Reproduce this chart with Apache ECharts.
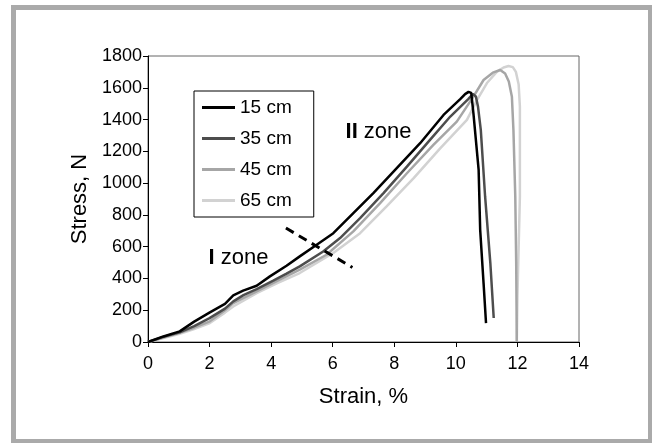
<!DOCTYPE html>
<html>
<head>
<meta charset="utf-8">
<script src="https://cdn.jsdelivr.net/npm/echarts@6/dist/echarts.min.js"></script>
<style>
  html, body { margin: 0; padding: 0; background: #fff; }
  #chart { width: 652px; height: 443px; }
</style>
</head>
<body>
<div id="chart"></div>
<script>
// 读图估计的数据: 应变 (%) / 应力 (N)
const strain15 = [0, 0.5, 1.03, 1.5, 2.01, 2.5, 2.77, 3.09, 3.53, 3.96, 4.5, 4.93, 5.48, 6.02, 6.67, 7.32, 8.08, 8.84, 9.6, 10.15, 10.3, 10.41, 10.5, 10.57, 10.74, 10.79, 10.9, 10.98];
const stress15 = [0, 35, 67, 128, 186, 240, 293, 323, 354, 413, 480, 539, 612, 685, 811, 937, 1094, 1251, 1429, 1530, 1560, 1574, 1568, 1440, 1083, 706, 371, 119];

const strain35 = [0, 0.5, 1.03, 1.5, 2.0, 2.5, 2.77, 3.1, 3.53, 4.07, 4.5, 4.93, 5.69, 6.24, 6.89, 7.65, 8.41, 9.16, 9.82, 10.41, 10.55, 10.65, 10.72, 10.81, 10.95, 11.12, 11.23];
const stress35 = [0, 32, 61, 100, 150, 210, 256, 295, 333, 386, 430, 476, 570, 654, 780, 937, 1104, 1272, 1419, 1530, 1561, 1545, 1480, 1335, 916, 497, 151];

const strain45 = [0, 0.5, 1.03, 1.5, 2.01, 2.5, 2.77, 3.53, 4.2, 4.93, 5.8, 6.67, 7.54, 8.41, 9.27, 10.03, 10.57, 10.9, 11.2, 11.44, 11.6, 11.72, 11.82, 11.87, 11.93, 11.96, 11.98];
const stress45 = [0, 28, 58, 90, 130, 200, 245, 319, 385, 455, 549, 696, 874, 1062, 1240, 1387, 1544, 1649, 1695, 1712, 1690, 1640, 1544, 1335, 916, 497, 0];

const strain65 = [0, 0.5, 1.03, 1.5, 2.01, 2.5, 2.77, 3.53, 4.2, 4.93, 6.02, 6.89, 7.75, 8.63, 9.49, 10.36, 10.68, 11.01, 11.33, 11.55, 11.71, 11.85, 11.95, 12.04, 12.08, 12.08, 12.0, 11.98];
const stress65 = [0, 25, 52, 82, 119, 185, 224, 308, 370, 434, 560, 685, 853, 1031, 1219, 1398, 1520, 1630, 1700, 1728, 1737, 1730, 1700, 1620, 1482, 916, 287, 0];

// 分区虚线
const zoneLineX = [4.48, 6.64];
const zoneLineY = [717, 469];

// 分区标注
const zoneLabels = ['I', 'II'];
const zoneLabelX = [1.95, 6.4];
const zoneLabelY = [528, 1321];

const seriesNames = ['15 cm', '35 cm', '45 cm', '65 cm'];
const seriesColors = ['#000000', '#4d4d4d', '#a6a6a6', '#d2d2d2'];

function pairs(xs, ys) {
  return xs.map((x, i) => [x, ys[i]]);
}

const font = '"Liberation Sans", Arial, sans-serif';
const myChart = echarts.init(document.getElementById('chart'));

const curves = [
  pairs(strain15, stress15),
  pairs(strain35, stress35),
  pairs(strain45, stress45),
  pairs(strain65, stress65)
];

const series = [];
// 先画浅色的，深色的在上面
for (let i = curves.length - 1; i >= 0; i--) {
  series.push({
    name: seriesNames[i],
    type: 'line',
    data: curves[i],
    showSymbol: false,
    lineStyle: { color: seriesColors[i], width: 2.5 },
    itemStyle: { color: seriesColors[i] },
    z: 10 - i
  });
}
series.push({
  name: 'zone',
  type: 'line',
  data: pairs(zoneLineX, zoneLineY),
  showSymbol: false,
  lineStyle: { color: '#000', width: 3, type: [9, 6] },
  z: 20
});
series.push({
  name: 'zoneText',
  type: 'scatter',
  data: zoneLabelX.map((x, i) => ({ value: [x, zoneLabelY[i]], name: zoneLabels[i] })),
  symbol: 'circle',
  symbolSize: 1,
  itemStyle: { color: 'transparent', opacity: 1 },
  z: 30,
  label: {
    show: true,
    position: 'right',
    distance: 0,
    fontFamily: font,
    fontSize: 22,
    color: '#000',
    opacity: 1,
    formatter: p => '{b|' + p.name + '} zone',
    rich: {
      b: { fontFamily: font, fontSize: 22, fontWeight: 'bold', color: '#000' }
    }
  }
});

const option = {
  backgroundColor: '#fff',
  animation: false,
  grid: {
    left: 148, right: 73, top: 56, bottom: 101,
    show: true, borderColor: '#666', borderWidth: 1
  },
  legend: {
    data: seriesNames,
    orient: 'vertical',
    left: 194, top: 91,
    padding: [7, 22, 7, 8],
    itemWidth: 33, itemHeight: 3, itemGap: 12,
    icon: 'rect',
    borderColor: '#000', borderWidth: 1,
    textStyle: { fontFamily: font, fontSize: 19, color: '#000' }
  },
  xAxis: {
    type: 'value', min: 0, max: 14, interval: 2,
    name: 'Strain, %', nameLocation: 'middle', nameGap: 44,
    nameTextStyle: { fontFamily: font, fontSize: 22, color: '#000' },
    splitLine: { show: false },
    axisLine: { lineStyle: { color: '#000', width: 1 } },
    axisTick: { length: 5, lineStyle: { color: '#000' } },
    axisLabel: { fontFamily: font, fontSize: 18, color: '#000', margin: 13 }
  },
  yAxis: {
    type: 'value', min: 0, max: 1800, interval: 200,
    name: 'Stress, N', nameLocation: 'middle', nameGap: 56,
    nameTextStyle: { fontFamily: font, fontSize: 22, color: '#000' },
    splitLine: { show: false },
    axisLine: { show: true, lineStyle: { color: '#000', width: 1 } },
    axisTick: { show: true, length: 5, lineStyle: { color: '#000' } },
    axisLabel: { fontFamily: font, fontSize: 18, color: '#000', margin: 6, formatter: v => String(v) }
  },
  graphic: [{
    type: 'rect',
    shape: { x: 13.5, y: 7.5, width: 637, height: 434 },
    style: { fill: null, stroke: '#aaaaaa', lineWidth: 5 },
    silent: true
  }],
  series: series
};

myChart.setOption(option);
</script>
</body>
</html>
